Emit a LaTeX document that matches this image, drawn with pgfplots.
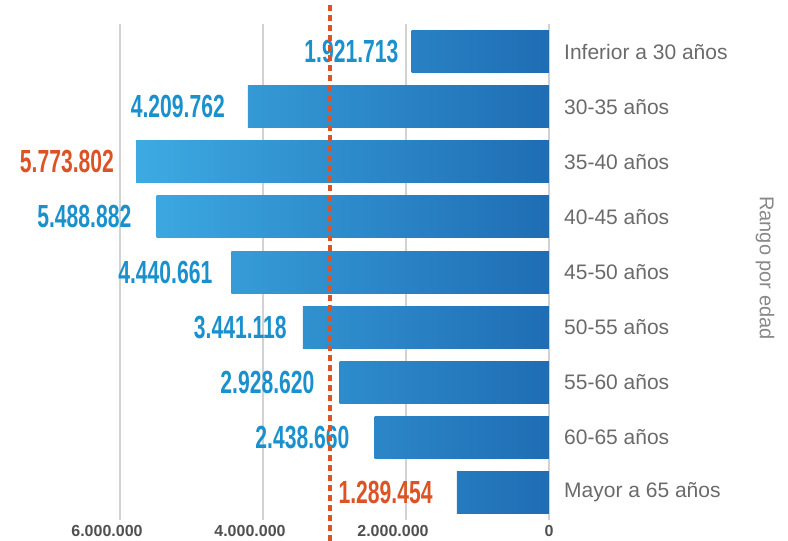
\documentclass[border=0pt]{standalone}
\usepackage{fontspec}
\setmainfont{Liberation Sans}
\usepackage{graphicx}
\usepackage{pgfplots}
\pgfplotsset{compat=1.18}
\definecolor{barL}{HTML}{3DAAE2}
\definecolor{barR}{HTML}{1F6DB4}
\definecolor{numblue}{HTML}{1A90CC}
\definecolor{numorange}{HTML}{DC5325}
\definecolor{catgray}{HTML}{6A6A6A}
\definecolor{tickgray}{HTML}{505050}

\newcommand{\num}[1]{\fontsize{32}{32}\selectfont\bfseries\scalebox{0.66}[1]{#1}}

\begin{document}
\begin{tikzpicture}
\useasboundingbox (-2pt,-21pt) rectangle (786pt,520pt);
\begin{axis}[
    at={(0pt,0pt)}, anchor=south west,
    scale only axis,
    width=547pt, height=496pt,
    xmin=0, xmax=7650000, x dir=reverse,
    ymin=-0.5, ymax=8.5, y dir=reverse,
    clip=false,
    axis line style={draw=none},
    major tick length=0pt,
    xmajorgrids,
    grid style={draw=gray!35, line width=1.2pt},
    xtick={0,2000000,4000000,6000000},
    xticklabels={0,2.000.000\hspace*{26pt},4.000.000\hspace*{26pt},6.000.000\hspace*{26pt}},
    xticklabel style={anchor=north, inner sep=0pt, yshift=-5pt,
        font=\fontsize{16}{16}\selectfont\bfseries, text=tickgray},
    ytick={0,...,8},
    yticklabels={Inferior a 30 años,30-35 años,35-40 años,40-45 años,45-50 años,50-55 años,55-60 años,60-65 años,Mayor a 65 años},
    yticklabel pos=right,
    yticklabel style={anchor=west, inner sep=0pt, xshift=15pt,
        font=\fontsize{21}{21}\selectfont, text=catgray},
    bar width=42pt, bar shift=0pt,
]
\addplot[xbar, draw=none, left color=barL!33!barR, right color=barR] coordinates {(1921713,0)};
\addplot[xbar, draw=none, left color=barL!73!barR, right color=barR] coordinates {(4209762,1)};
\addplot[xbar, draw=none, left color=barL, right color=barR] coordinates {(5773802,2)};
\addplot[xbar, draw=none, left color=barL!95!barR, right color=barR] coordinates {(5488882,3)};
\addplot[xbar, draw=none, left color=barL!77!barR, right color=barR] coordinates {(4440661,4)};
\addplot[xbar, draw=none, left color=barL!60!barR, right color=barR] coordinates {(3441118,5)};
\addplot[xbar, draw=none, left color=barL!51!barR, right color=barR] coordinates {(2928620,6)};
\addplot[xbar, draw=none, left color=barL!42!barR, right color=barR] coordinates {(2438660,7)};
\addplot[xbar, draw=none, left color=barL!22!barR, right color=barR] coordinates {(1289454,8)};

% value labels
\node[anchor=east, inner sep=0pt, xshift=-13pt, text=numblue] at (axis cs:1921713,0) {\num{1.921.713}};
\node[anchor=east, inner sep=0pt, xshift=-23pt, text=numblue] at (axis cs:4209762,1) {\num{4.209.762}};
\node[anchor=east, inner sep=0pt, xshift=-22pt, text=numorange] at (axis cs:5773802,2) {\num{5.773.802}};
\node[anchor=east, inner sep=0pt, xshift=-25pt, text=numblue] at (axis cs:5488882,3) {\num{5.488.882}};
\node[anchor=east, inner sep=0pt, xshift=-19pt, text=numblue] at (axis cs:4440661,4) {\num{4.440.661}};
\node[anchor=east, inner sep=0pt, xshift=-16pt, text=numblue] at (axis cs:3441118,5) {\num{3.441.118}};
\node[anchor=east, inner sep=0pt, xshift=-25pt, text=numblue] at (axis cs:2928620,6) {\num{2.928.620}};
\node[anchor=east, inner sep=0pt, xshift=-25pt, text=numblue] at (axis cs:2438660,7) {\num{2.438.660}};
\node[anchor=east, inner sep=0pt, xshift=-24pt, text=numorange] at (axis cs:1289454,8) {\num{1.289.454}};

% reference line
\draw[numorange, line width=3.5pt, dash pattern=on 6pt off 4pt]
    (axis cs:3063000,-0.845) -- (axis cs:3063000,8.9);
\end{axis}
\node[rotate=-90, text=catgray!80, font=\fontsize{20}{20}\selectfont] at (763pt,252pt) {Rango por edad};
\end{tikzpicture}
\end{document}
